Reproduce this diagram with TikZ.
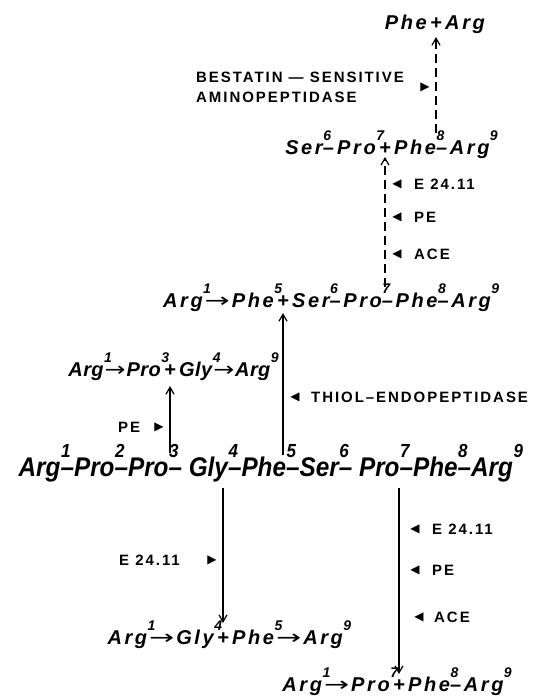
\documentclass[tikz,border=0pt]{standalone}
\usepackage{fontspec}
\usepackage{graphicx}
\setmainfont{Liberation Sans}
\newfontfamily\labfont[LetterSpace=13]{Liberation Sans}
\newfontfamily\formfont[LetterSpace=13]{Liberation Sans}
\newfontfamily\formfontn[LetterSpace=2]{Liberation Sans}
\newfontfamily\mcfont[FakeStretch=0.9]{Liberation Sans}
\newfontfamily\symfont{DejaVu Sans}
\usetikzlibrary{arrows.meta}
\newcommand\su[1]{\rlap{\kern0.5pt\raisebox{0.68em}{\scalebox{0.7}{#1}}}}
\newcommand\sul[1]{\kern0.5pt\raisebox{0.68em}{\scalebox{0.7}{#1}}}
\newcommand\ra{\kern2pt\scalebox{1.5}[1]{\symfont\upshape\mdseries →}\kern2pt}
\newcommand\rb{\kern1pt\scalebox{1.25}[1]{\symfont\upshape\mdseries →}\kern1pt}
\tikzset{
  form/.style={inner ysep=0pt, inner xsep=1.5pt, anchor=base west, font=\fontsize{20}{22}\selectfont\formfont\bfseries\itshape},
  formn/.style={form, font=\fontsize{20}{22}\selectfont\formfontn\bfseries\itshape},
  plus/.style={anchor=base},
  left/.style={anchor=base east},
  bigform/.style={form, font=\fontsize{27}{29}\selectfont\mcfont\bfseries\itshape},
  lbl/.style={inner sep=0pt, anchor=west, font=\fontsize{15}{17}\selectfont\labfont\bfseries},
  tri/.style={inner sep=0pt, font=\fontsize{12}{12}\selectfont\symfont},
  arr/.style={line width=1.2pt, -{Straight Barb[length=7pt,width=8pt]}},
  darr/.style={arr, dash pattern=on 9pt off 5pt}
}
\begin{document}
\begin{tikzpicture}[x=1pt,y=-1pt]
\useasboundingbox (0,0) rectangle (535,698);
% Phe + Arg
\node[form,plus] (paP) at (436,30) {+};
\node[form,left] (paL) at (paP.base west) {Phe};
\node[form] (paR) at (paP.base east) {Arg};
% Ser6-Pro7 + Phe8-Arg9
\node[form,plus] (spP) at (385,154) {+};
\node[form,left] (spL) at (spP.base west) {Ser\su{6}–\,Pro\su{7}};
\node[form] (spR) at (spP.base east) {Phe\su{8}–Arg\sul{9}};
% Arg1 -> Phe5 + Ser6 ...
\node[form,plus] (apP) at (283,307) {+};
\node[form,left] (apL) at (apP.base west) {Arg\su{1}\ra Phe\su{5}};
\node[form] (apR) at (apP.base east) {Ser\su{6}–Pro\su{7}–Phe\su{8}–Arg\sul{9}};
% Arg1 -> Pro3 + Gly4 -> Arg9
\node[formn,plus] (agP) at (170,376) {+};
\node[formn,left] (agL) at (agP.base west) {Arg\su{1}\rb Pro\su{3}};
\node[formn] (agR) at (agP.base east) {Gly\su{4}\rb Arg\sul{9}};
% main chain
\node[bigform] (mc) at (17,476) {Arg\su{1}–Pro\su{2}–Pro\su{3}– Gly\su{4}–Phe\su{5}–Ser\su{6}– Pro\su{7}–Phe\su{8}–Arg\sul{9}};
% Arg1 -> Gly4 + Phe5 -> Arg9
\node[form,plus] (glP) at (223,644) {+};
\node[form,left] (glL) at (glP.base west) {Arg\su{1}\ra Gly\su{4}};
\node[form] (glR) at (glP.base east) {Phe\su{5}\ra Arg\sul{9}};
% Arg1 -> Pro7 + Phe8 - Arg9
\node[form,plus] (prP) at (399,691) {+};
\node[form,left] (prL) at (prP.base west) {Arg\su{1}\ra Pro\su{7}};
\node[form] (prR) at (prP.base east) {Phe\su{8}–Arg\sul{9}};
% labels
\node[lbl] (bes1) at (196,77) {BESTATIN — SENSITIVE};
\node[lbl] (bes2) at (196,97) {AMINOPEPTIDASE};
\node[tri] (tb) at (425,87) {▶};
\node[tri] (t1) at (397,184) {◀};
\node[lbl] (e1) at (414,184) {E 24.11};
\node[tri] (t2) at (397,217) {◀};
\node[lbl] (pe1) at (414,217) {PE};
\node[tri] (t3) at (397,254) {◀};
\node[lbl] (ace1) at (414,254) {ACE};
\node[tri] (t4) at (295,397) {◀};
\node[lbl] (thiol) at (311,397) {THIOL–ENDOPEPTIDASE};
\node[lbl] (pe2) at (118,427) {PE};
\node[tri] (t5) at (159,427) {▶};
\node[lbl] (e2) at (119,560) {E 24.11};
\node[tri] (t6) at (212,560) {▶};
\node[tri] (t7) at (415,529) {◀};
\node[lbl] (e3) at (432,529) {E 24.11};
\node[tri] (t8) at (415,570) {◀};
\node[lbl] (pe3) at (432,570) {PE};
\node[tri] (t9) at (419,617) {◀};
\node[lbl] (ace3) at (434,617) {ACE};
% arrows: start at the main texts, end at the '+' nodes
\coordinate (c1) at (170,453);
\coordinate (c2) at (283,455);
\coordinate (c3) at (385,287);
\coordinate (c4) at (436,133);
\coordinate (c5) at (223,488);
\coordinate (c6) at (399,488);
\draw[arr] (c1) -- (agP.south |- 0,386);
\draw[arr] (c2) -- (apP.south |- 0,313);
\draw[darr] (c3) -- (spP.south |- 0,157);
\draw[darr] (c4) -- (paP.south |- 0,37);
\draw[arr] (c5) -- (glP.north |- 0,623);
\draw[arr] (c6) -- (prP.north |- 0,674);
\end{tikzpicture}
\end{document}
